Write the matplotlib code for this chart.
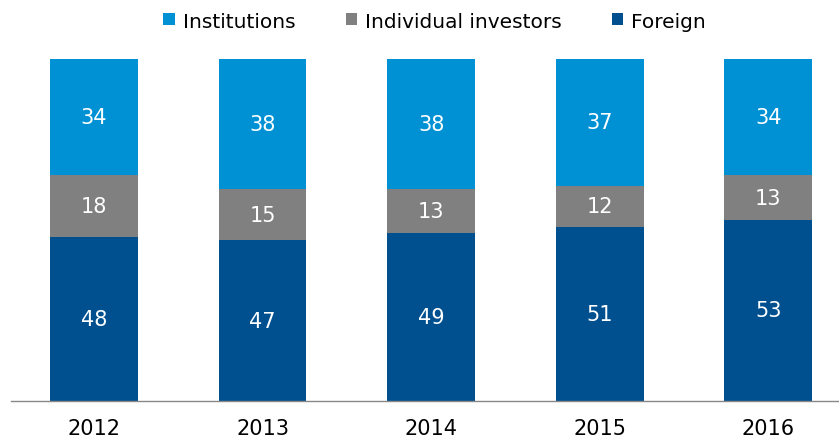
import numpy as np
import matplotlib.pyplot as plt

years = ['2012', '2013', '2014', '2015', '2016']
foreign = [48, 47, 49, 51, 53]
individual = [18, 15, 13, 12, 13]
institutions = [34, 38, 38, 37, 34]

c_inst = '#0091d5'
c_ind = '#808080'
c_for = '#004f8f'

fig = plt.figure(figsize=(8.39, 4.39), dpi=100)
ax = fig.add_axes([11/839, 37/439, 828/839, (402-60)/439])

x = np.arange(len(years))
w = 0.52
b1 = ax.bar(x, foreign, w, color=c_for, label='Foreign')
b2 = ax.bar(x, individual, w, bottom=foreign, color=c_ind, label='Individual investors')
bottom2 = np.array(foreign) + np.array(individual)
b3 = ax.bar(x, institutions, w, bottom=bottom2, color=c_inst, label='Institutions')

for bars, vals in [(b1, foreign), (b2, individual), (b3, institutions)]:
    for r, v in zip(bars, vals):
        ax.text(r.get_x() + r.get_width()/2, r.get_y() + r.get_height()/2, str(v),
                ha='center', va='center', color='white', fontsize=15)

ax.set_xlim(-0.493, 4.42)
ax.set_ylim(0, 100)
ax.set_xticks(x)
ax.set_xticklabels(years, fontsize=15)
ax.tick_params(axis='x', length=0, pad=12)
ax.set_yticks([])
for s in ['top', 'right', 'left']:
    ax.spines[s].set_visible(False)
ax.spines['bottom'].set_color('#888888')
ax.spines['bottom'].set_linewidth(1)

h, l = ax.get_legend_handles_labels()
fig.legend(h[::-1], l[::-1], loc='center', bbox_to_anchor=(0.518, 1 - 22/439), ncol=3,
           frameon=False, fontsize=14.5, handlelength=0.55, handleheight=0.55,
           handletextpad=0.4, columnspacing=2.5)

fig.savefig('out.png', dpi=100)
